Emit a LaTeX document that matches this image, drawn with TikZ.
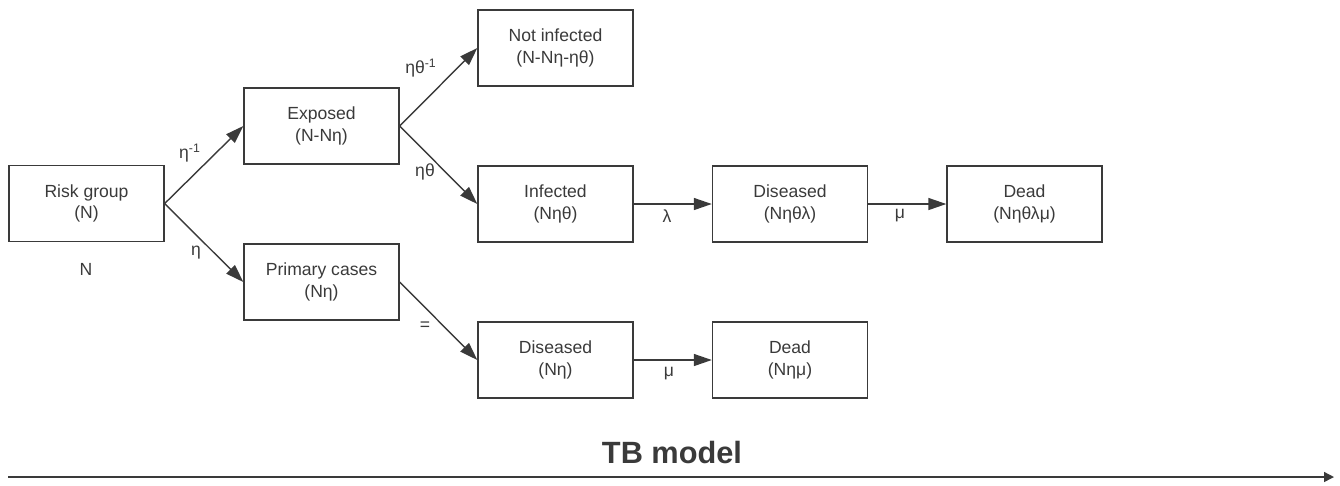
\documentclass[tikz,border=0pt]{standalone}
\usepackage{fontspec}
\setmainfont{Liberation Sans}
\usetikzlibrary{arrows.meta}
\definecolor{ink}{HTML}{3A3A3A}
\begin{document}
\begin{tikzpicture}[x=0.02cm,y=-0.02cm,
    box/.style={draw=ink,line width=0.8pt,minimum width=3.1cm,minimum height=1.52cm,
      align=center,text=ink,font=\fontsize{10}{12.2}\selectfont},
    lbl/.style={text=ink,font=\fontsize{10}{12}\selectfont,inner sep=0pt},
    flow/.style={draw=ink,line width=0.8pt,-{Triangle[length=3.6mm,width=2.4mm]}}]
  \useasboundingbox (0,0) rectangle (1340,485);

  \node[box] (risk) at (86.5,203.5) {Risk group\\(N)};
  \node[box] (exposed) at (321.5,126) {Exposed\\(N-Nη)};
  \node[box] (primary) at (321.5,282) {Primary cases\\(Nη)};
  \node[box] (notinf) at (555.5,48) {Not infected\\(N-Nη-ηθ)};
  \node[box] (infected) at (555.5,204) {Infected\\(Nηθ)};
  \node[box] (diseased) at (790,204) {Diseased\\(Nηθλ)};
  \node[box] (dead) at (1024.5,204) {Dead\\(Nηθλμ)};
  \node[box] (diseasedp) at (555.5,360) {Diseased\\(Nη)};
  \node[box] (deadp) at (790,360) {Dead\\(Nημ)};

  \node[lbl] (total) at (86,269) {N};
  \node[lbl] (eta-inv) at (190,153) {η\textsuperscript{-1}};
  \node[lbl] (eta) at (196,253) {η};
  \node[lbl] (etatheta-inv) at (421,68) {ηθ\textsuperscript{-1}};
  \node[lbl] (etatheta) at (425,172) {ηθ};
  \node[lbl] (same) at (425,326) {=};
  \node[lbl] (lambda) at (667,216) {λ};
  \node[lbl] (mu) at (900,216) {μ};
  \node[lbl] (mup) at (669,374) {μ};

  \draw[flow] (risk.east) -- (exposed.west);
  \draw[flow] (risk.east) -- (primary.west);
  \draw[flow] (exposed.east) -- (notinf.west);
  \draw[flow] (exposed.east) -- (infected.west);
  \draw[flow] (primary.east) -- (diseasedp.west);
  \draw[flow] (infected) -- (diseased);
  \draw[flow] (diseased) -- (dead);
  \draw[flow] (diseasedp) -- (deadp);

  % time axis
  \node[text=ink,font=\bfseries\fontsize{17.5}{20}\selectfont] (title) at (672,452) {TB model};
  \coordinate (axis-start) at (8,477);
  \coordinate (axis-end) at (1334,477);
  \draw[ink,line width=0.8pt,-{Triangle[length=2mm,width=2mm]}] (axis-start) -- (axis-end);
\end{tikzpicture}
\end{document}
